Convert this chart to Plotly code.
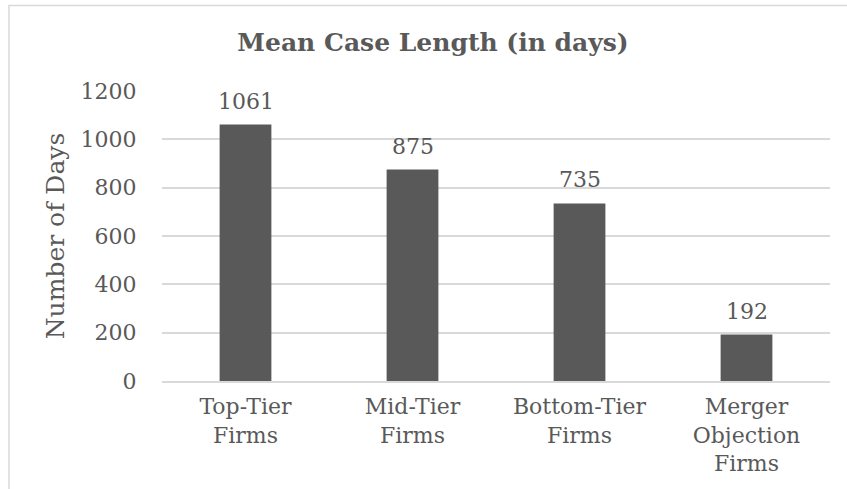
import plotly.graph_objects as go

# valores
categories = ["Top-Tier<br>Firms", "Mid-Tier<br>Firms", "Bottom-Tier<br>Firms",
              "Merger<br>Objection<br>Firms"]
mean_days = [1061, 875, 735, 192]
y_ticks = [0, 200, 400, 600, 800, 1000, 1200]

INK = "#595959"
GRID = "#d9d9d9"
FONT = "DejaVu Serif"

fig = go.Figure(go.Bar(
    x=categories, y=mean_days,
    marker=dict(color=INK, line=dict(width=0)),
    hoverinfo="x+y",
))

# rótulos de valor acima das barras
for cat, val in zip(categories, mean_days):
    fig.add_annotation(x=cat, y=val, text=str(val), showarrow=False,
                       yanchor="bottom", yshift=9,
                       font=dict(family=FONT, size=22, color=INK))

fig.update_layout(
    width=847, height=489,
    paper_bgcolor="white", plot_bgcolor="white",
    margin=dict(l=162, r=17, t=91, b=108),
    font=dict(family=FONT, size=22, color=INK),
    title=dict(text="<b>Mean Case Length (in days)</b>",
               x=433 / 847, xref="container", xanchor="center",
               y=1 - 42 / 489, yref="container", yanchor="middle",
               font=dict(family=FONT, size=25, color=INK)),
    bargap=0.69,
    showlegend=False,
)
fig.update_xaxes(showgrid=False, showline=True, linecolor=GRID, linewidth=1.5,
                 ticks="outside", ticklen=5, tickcolor="rgba(0,0,0,0)",
                 tickfont=dict(family=FONT, size=22, color=INK))
fig.update_yaxes(range=[0, 1200], tickvals=y_ticks, showgrid=True,
                 gridcolor=GRID, gridwidth=1.5, zeroline=False,
                 ticks="outside", ticklen=20, tickcolor="rgba(0,0,0,0)",
                 tickfont=dict(family=FONT, size=22, color=INK),
                 title=dict(text="Number of Days", standoff=8,
                            font=dict(family=FONT, size=25, color=INK)))

# moldura cinza do gráfico (bordas esquerda e superior visíveis)
fig.add_shape(type="rect", xref="paper", yref="paper",
              x0=(9 - 162) / 668, x1=(880 - 162) / 668,
              y0=(380.5 - 520) / 290, y1=(380.5 - 5) / 290,
              line=dict(color=GRID, width=1.5), fillcolor="rgba(0,0,0,0)",
              layer="below")

# sem margem do <body>, para o gráfico começar no canto da janela
fig.write_html("out.html", config={"displayModeBar": False},
               post_script="document.body.style.margin='0';")
